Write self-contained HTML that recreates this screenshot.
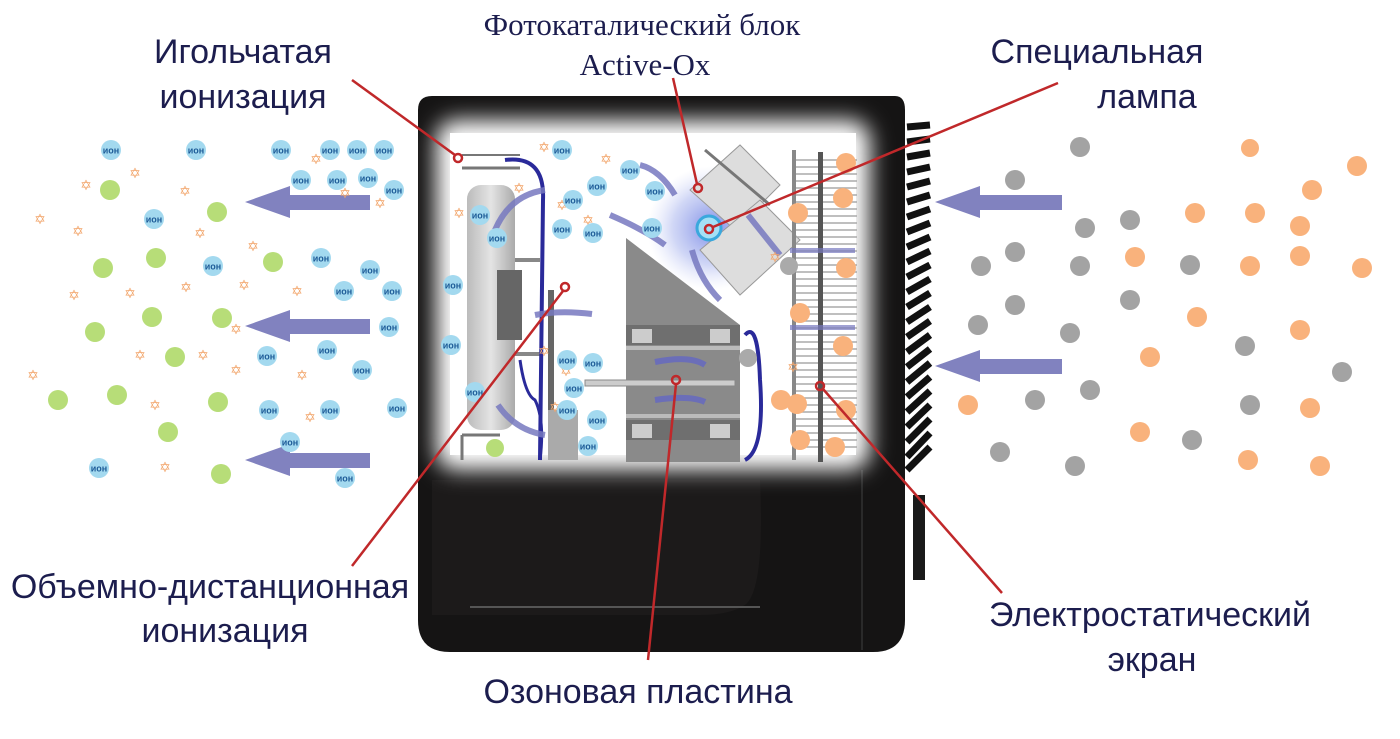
<!DOCTYPE html>
<html><head><meta charset="utf-8"><style>
html,body{margin:0;padding:0;background:#fff;}
svg{display:block}
.lbl{font-family:"Liberation Sans","DejaVu Sans",sans-serif;font-size:34px;fill:#1c1d4e}
.ser{font-family:"Liberation Serif","DejaVu Serif",serif;font-size:31px;fill:#1c1d4e}
.i{font-family:"Liberation Sans",sans-serif;font-size:9px;font-weight:bold;fill:#1e5c98;text-anchor:middle}
.st{font-family:"DejaVu Sans",sans-serif;font-size:14px;fill:#f2a66c;text-anchor:middle}
</style></head><body>
<svg width="1400" height="739" viewBox="0 0 1400 739" xmlns="http://www.w3.org/2000/svg">
<defs>
<radialGradient id="glow" cx="0.5" cy="0.5" r="0.5"><stop offset="0" stop-color="#5d6fe0" stop-opacity="0.8"/><stop offset="0.6" stop-color="#8a9ae8" stop-opacity="0.4"/><stop offset="1" stop-color="#c0c8f5" stop-opacity="0"/></radialGradient>
<filter id="blur" x="-20%" y="-20%" width="140%" height="140%"><feGaussianBlur stdDeviation="11"/></filter>
<g id="ion"><circle r="10" fill="#a3d9ef"/><text y="3.5" class="i">ион</text></g>
<linearGradient id="fan" x1="0" x2="1"><stop offset="0" stop-color="#bbb"/><stop offset="0.5" stop-color="#e4e4e4"/><stop offset="1" stop-color="#aaa"/></linearGradient>
</defs>

<!-- device body -->
<path d="M418 110 Q418 96 432 96 L895 96 Q905 96 905 110 L905 620 Q905 652 873 652 L450 652 Q418 652 418 620 Z" fill="#151414"/>
<rect x="913" y="495" width="12" height="85" fill="#1a1a1a"/>
<path d="M432 480 L760 480 Q765 590 745 605 Q730 615 700 615 L432 615 Z" fill="#1c1a1a"/>
<line x1="470" y1="607" x2="760" y2="607" stroke="#555" stroke-width="2"/>
<line x1="862" y1="470" x2="862" y2="650" stroke="#2a2a2a" stroke-width="2"/>
<!-- grill fins -->
<g stroke="#111" stroke-width="7">
<line x1="907" y1="127" x2="930" y2="125"/><line x1="907" y1="142" x2="930" y2="139"/><line x1="907" y1="157" x2="930" y2="153"/><line x1="907" y1="172" x2="930" y2="167"/><line x1="907" y1="187" x2="930" y2="181"/><line x1="907" y1="202" x2="930" y2="195"/><line x1="907" y1="217" x2="930" y2="209"/><line x1="907" y1="232" x2="930" y2="223"/><line x1="907" y1="247" x2="930" y2="237"/><line x1="907" y1="262" x2="930" y2="251"/><line x1="907" y1="277" x2="930" y2="265"/><line x1="907" y1="292" x2="930" y2="279"/><line x1="907" y1="307" x2="930" y2="293"/><line x1="907" y1="322" x2="930" y2="307"/><line x1="907" y1="337" x2="930" y2="321"/><line x1="907" y1="352" x2="930" y2="335"/><line x1="907" y1="367" x2="930" y2="349"/><line x1="907" y1="382" x2="930" y2="363"/><line x1="907" y1="397" x2="930" y2="377"/><line x1="907" y1="412" x2="930" y2="391"/><line x1="907" y1="427" x2="930" y2="405"/><line x1="907" y1="442" x2="930" y2="419"/><line x1="907" y1="457" x2="930" y2="433"/><line x1="907" y1="470" x2="930" y2="447"/>
</g>
<!-- window -->
<rect x="436" y="120" width="434" height="350" rx="20" fill="#fff" filter="url(#blur)"/>
<rect x="450" y="133" width="406" height="322" fill="#fff"/>

<!-- interior -->
<ellipse cx="712" cy="228" rx="65" ry="62" fill="url(#glow)"/>
<g stroke="#999" stroke-width="1">
<path d="M690 190 L740 145 L780 185 L735 230 Z" fill="#ddd"/>
<path d="M700 250 L760 200 L800 240 L740 295 Z" fill="#ddd"/>
</g>
<line x1="705" y1="150" x2="770" y2="205" stroke="#777" stroke-width="3"/>
<path d="M626 238 L740 325 L740 462 L626 462 Z" fill="#8a8a8a"/>
<rect x="626" y="325" width="114" height="20" fill="#6f6f6f"/><rect x="632" y="329" width="20" height="14" fill="#ccc"/><rect x="710" y="329" width="20" height="14" fill="#ccc"/>
<rect x="626" y="346" width="114" height="4" fill="#bbb"/><rect x="626" y="414" width="114" height="4" fill="#bbb"/>
<rect x="626" y="420" width="114" height="20" fill="#6f6f6f"/><rect x="632" y="424" width="20" height="14" fill="#ccc"/><rect x="710" y="424" width="20" height="14" fill="#ccc"/>
<rect x="585" y="380" width="150" height="6" fill="#ccc" stroke="#888"/>
<path d="M655 362 Q690 355 705 365" stroke="#6b6eb8" stroke-width="6" fill="none"/>
<path d="M655 400 Q690 395 705 402" stroke="#6b6eb8" stroke-width="6" fill="none"/>
<!-- fan -->
<rect x="467" y="185" width="48" height="245" rx="14" fill="url(#fan)"/>
<rect x="497" y="270" width="25" height="70" fill="#666"/>
<rect x="515" y="258" width="25" height="4" fill="#888"/><rect x="515" y="352" width="25" height="4" fill="#888"/>
<line x1="462" y1="155" x2="520" y2="155" stroke="#777" stroke-width="2"/><line x1="462" y1="168" x2="520" y2="168" stroke="#777" stroke-width="3"/>
<path d="M462 435 L462 460 M462 435 L500 435" stroke="#777" stroke-width="3" fill="none"/>
<path d="M505 160 Q545 155 543 200 L540 460" stroke="#2a2a9a" stroke-width="4" fill="none"/>
<path d="M520 360 Q525 395 535 400 Q545 420 540 460" stroke="#2a2a9a" stroke-width="3" fill="none"/>
<rect x="548" y="290" width="6" height="130" fill="#666"/>
<rect x="548" y="410" width="30" height="50" fill="#aaa"/>
<path d="M745 460 Q765 450 760 380 Q758 320 745 335" stroke="#2a2a9a" stroke-width="4" fill="none"/>
<!-- arrows inside -->
<g stroke="#7779c0" stroke-width="6" fill="none" opacity="0.85">
<path d="M545 190 Q510 195 495 230"/><path d="M592 314 Q560 310 535 315"/><path d="M545 435 Q515 430 498 405"/>
<path d="M665 245 Q645 230 610 215"/><path d="M675 195 Q660 170 640 165"/><path d="M720 300 Q700 280 692 250"/><path d="M780 255 Q760 230 748 215"/>
</g>
<!-- electrostatic screen -->
<g stroke="#aaa" stroke-width="1.5">
<line x1="792" y1="160" x2="857" y2="160"/><line x1="792" y1="167" x2="857" y2="167"/><line x1="792" y1="174" x2="857" y2="174"/><line x1="792" y1="181" x2="857" y2="181"/><line x1="792" y1="188" x2="857" y2="188"/><line x1="792" y1="195" x2="857" y2="195"/><line x1="792" y1="202" x2="857" y2="202"/><line x1="792" y1="209" x2="857" y2="209"/><line x1="792" y1="216" x2="857" y2="216"/><line x1="792" y1="223" x2="857" y2="223"/><line x1="792" y1="230" x2="857" y2="230"/><line x1="792" y1="237" x2="857" y2="237"/><line x1="792" y1="244" x2="857" y2="244"/><line x1="792" y1="251" x2="857" y2="251"/><line x1="792" y1="258" x2="857" y2="258"/><line x1="792" y1="265" x2="857" y2="265"/><line x1="792" y1="272" x2="857" y2="272"/><line x1="792" y1="279" x2="857" y2="279"/><line x1="792" y1="286" x2="857" y2="286"/><line x1="792" y1="293" x2="857" y2="293"/><line x1="792" y1="300" x2="857" y2="300"/><line x1="792" y1="307" x2="857" y2="307"/><line x1="792" y1="314" x2="857" y2="314"/><line x1="792" y1="321" x2="857" y2="321"/><line x1="792" y1="328" x2="857" y2="328"/><line x1="792" y1="335" x2="857" y2="335"/><line x1="792" y1="342" x2="857" y2="342"/><line x1="792" y1="349" x2="857" y2="349"/><line x1="792" y1="356" x2="857" y2="356"/><line x1="792" y1="363" x2="857" y2="363"/><line x1="792" y1="370" x2="857" y2="370"/><line x1="792" y1="377" x2="857" y2="377"/><line x1="792" y1="384" x2="857" y2="384"/><line x1="792" y1="391" x2="857" y2="391"/><line x1="792" y1="398" x2="857" y2="398"/><line x1="792" y1="405" x2="857" y2="405"/><line x1="792" y1="412" x2="857" y2="412"/><line x1="792" y1="419" x2="857" y2="419"/><line x1="792" y1="426" x2="857" y2="426"/><line x1="792" y1="433" x2="857" y2="433"/><line x1="792" y1="440" x2="857" y2="440"/><line x1="792" y1="447" x2="857" y2="447"/>
</g>
<rect x="792" y="150" width="4" height="310" fill="#888"/>
<rect x="818" y="152" width="5" height="310" fill="#555"/>
<rect x="790" y="248" width="65" height="5" fill="#7779c0" opacity="0.7"/><rect x="790" y="325" width="65" height="5" fill="#7779c0" opacity="0.7"/>
<g fill="#f9b27c">
<circle cx="846" cy="163" r="10"/><circle cx="843" cy="198" r="10"/><circle cx="798" cy="213" r="10"/><circle cx="846" cy="268" r="10"/><circle cx="800" cy="313" r="10"/><circle cx="843" cy="346" r="10"/><circle cx="846" cy="410" r="10"/><circle cx="797" cy="404" r="10"/><circle cx="800" cy="440" r="10"/><circle cx="835" cy="447" r="10"/><circle cx="781" cy="400" r="10"/>
</g>
<circle cx="789" cy="266" r="9" fill="#aaa"/><circle cx="748" cy="358" r="9" fill="#aaa"/>
<circle cx="709" cy="228" r="12" fill="#a5e0f5" stroke="#3aa8dd" stroke-width="3"/>

<!-- left arrows -->
<g fill="#8182bf">
<polygon points="245,202 290,186 290,195 370,195 370,210 290,210 290,218"/>
<polygon points="245,326 290,310 290,319 370,319 370,334 290,334 290,342"/>
<polygon points="245,460 290,444 290,453 370,453 370,468 290,468 290,476"/>
<polygon points="935,202 980,186 980,195 1062,195 1062,210 980,210 980,218"/>
<polygon points="935,366 980,350 980,359 1062,359 1062,374 980,374 980,382"/>
</g>
<!-- green dots -->
<g fill="#b7dd78">
<circle cx="110" cy="190" r="10"/><circle cx="217" cy="212" r="10"/><circle cx="103" cy="268" r="10"/><circle cx="156" cy="258" r="10"/><circle cx="273" cy="262" r="10"/><circle cx="95" cy="332" r="10"/><circle cx="152" cy="317" r="10"/><circle cx="222" cy="318" r="10"/><circle cx="175" cy="357" r="10"/><circle cx="58" cy="400" r="10"/><circle cx="117" cy="395" r="10"/><circle cx="218" cy="402" r="10"/><circle cx="168" cy="432" r="10"/><circle cx="221" cy="474" r="10"/><circle cx="495" cy="448" r="9"/>
</g>
<!-- stars -->
<g class="st">
<text x="135" y="178">✡</text><text x="86" y="190">✡</text><text x="185" y="196">✡</text><text x="40" y="224">✡</text><text x="78" y="236">✡</text><text x="200" y="238">✡</text><text x="253" y="251">✡</text><text x="130" y="298">✡</text><text x="74" y="300">✡</text><text x="186" y="292">✡</text><text x="244" y="290">✡</text><text x="297" y="296">✡</text><text x="236" y="334">✡</text><text x="140" y="360">✡</text><text x="203" y="360">✡</text><text x="236" y="375">✡</text><text x="33" y="380">✡</text><text x="302" y="380">✡</text><text x="155" y="410">✡</text><text x="310" y="422">✡</text><text x="165" y="472">✡</text><text x="316" y="164">✡</text><text x="380" y="208">✡</text><text x="345" y="198">✡</text><text x="544" y="152">✡</text><text x="606" y="164">✡</text><text x="562" y="210">✡</text><text x="459" y="218">✡</text><text x="519" y="193">✡</text><text x="588" y="225">✡</text><text x="544" y="356">✡</text><text x="566" y="376">✡</text><text x="555" y="412">✡</text><text x="793" y="372">✡</text><text x="775" y="262">✡</text>
</g>
<!-- right dots -->
<g fill="#a3a3a3">
<circle cx="1080" cy="147" r="10"/><circle cx="1015" cy="180" r="10"/><circle cx="1130" cy="220" r="10"/><circle cx="1085" cy="228" r="10"/><circle cx="981" cy="266" r="10"/><circle cx="1015" cy="252" r="10"/><circle cx="1080" cy="266" r="10"/><circle cx="1190" cy="265" r="10"/><circle cx="1015" cy="305" r="10"/><circle cx="978" cy="325" r="10"/><circle cx="1070" cy="333" r="10"/><circle cx="1130" cy="300" r="10"/><circle cx="1245" cy="346" r="10"/><circle cx="1342" cy="372" r="10"/><circle cx="1035" cy="400" r="10"/><circle cx="1090" cy="390" r="10"/><circle cx="1250" cy="405" r="10"/><circle cx="1000" cy="452" r="10"/><circle cx="1075" cy="466" r="10"/><circle cx="1192" cy="440" r="10"/>
</g>
<g fill="#f9b27c">
<circle cx="1250" cy="148" r="9"/><circle cx="1357" cy="166" r="10"/><circle cx="1312" cy="190" r="10"/><circle cx="1195" cy="213" r="10"/><circle cx="1255" cy="213" r="10"/><circle cx="1300" cy="226" r="10"/><circle cx="1135" cy="257" r="10"/><circle cx="1250" cy="266" r="10"/><circle cx="1300" cy="256" r="10"/><circle cx="1362" cy="268" r="10"/><circle cx="1197" cy="317" r="10"/><circle cx="1300" cy="330" r="10"/><circle cx="1150" cy="357" r="10"/><circle cx="968" cy="405" r="10"/><circle cx="1310" cy="408" r="10"/><circle cx="1140" cy="432" r="10"/><circle cx="1248" cy="460" r="10"/><circle cx="1320" cy="466" r="10"/>
</g>
<!-- ions -->
<use href="#ion" x="111" y="150"/><use href="#ion" x="196" y="150"/><use href="#ion" x="281" y="150"/><use href="#ion" x="330" y="150"/><use href="#ion" x="357" y="150"/><use href="#ion" x="384" y="150"/><use href="#ion" x="301" y="180"/><use href="#ion" x="337" y="180"/><use href="#ion" x="368" y="178"/><use href="#ion" x="394" y="190"/><use href="#ion" x="154" y="219"/><use href="#ion" x="213" y="266"/><use href="#ion" x="321" y="258"/><use href="#ion" x="370" y="270"/><use href="#ion" x="344" y="291"/><use href="#ion" x="392" y="291"/><use href="#ion" x="389" y="327"/><use href="#ion" x="267" y="356"/><use href="#ion" x="327" y="350"/><use href="#ion" x="362" y="370"/><use href="#ion" x="269" y="410"/><use href="#ion" x="330" y="410"/><use href="#ion" x="397" y="408"/><use href="#ion" x="290" y="442"/><use href="#ion" x="345" y="478"/><use href="#ion" x="99" y="468"/>
<use href="#ion" x="562" y="150"/><use href="#ion" x="630" y="170"/><use href="#ion" x="597" y="186"/><use href="#ion" x="655" y="191"/><use href="#ion" x="573" y="200"/><use href="#ion" x="562" y="229"/><use href="#ion" x="593" y="233"/><use href="#ion" x="497" y="238"/><use href="#ion" x="652" y="228"/><use href="#ion" x="453" y="285"/><use href="#ion" x="451" y="345"/><use href="#ion" x="475" y="392"/><use href="#ion" x="567" y="360"/><use href="#ion" x="593" y="363"/><use href="#ion" x="574" y="388"/><use href="#ion" x="567" y="410"/><use href="#ion" x="597" y="420"/><use href="#ion" x="588" y="446"/><use href="#ion" x="480" y="215"/>

<!-- leader lines -->
<g stroke="#c0282a" stroke-width="2.5" fill="none">
<line x1="352" y1="80" x2="455" y2="155"/><circle cx="458" cy="158" r="4"/>
<line x1="673" y1="78" x2="697" y2="184"/><circle cx="698" cy="188" r="4"/>
<line x1="1058" y1="83" x2="713" y2="227"/><circle cx="709" cy="229" r="4"/>
<line x1="352" y1="566" x2="563" y2="291"/><circle cx="565" cy="287" r="4"/>
<line x1="648" y1="660" x2="676" y2="384"/><circle cx="676" cy="380" r="4"/>
<line x1="1002" y1="593" x2="823" y2="389"/><circle cx="820" cy="386" r="4"/>
</g>
<!-- labels -->
<text class="ser" x="642" y="35" text-anchor="middle">Фотокаталический блок</text>
<text class="ser" x="645" y="75" text-anchor="middle">Active-Ox</text>
<text class="lbl" x="243" y="63" text-anchor="middle">Игольчатая</text>
<text class="lbl" x="243" y="108" text-anchor="middle">ионизация</text>
<text class="lbl" x="1097" y="63" text-anchor="middle">Специальная</text>
<text class="lbl" x="1147" y="108" text-anchor="middle">лампа</text>
<text class="lbl" x="210" y="598" text-anchor="middle">Объемно-дистанционная</text>
<text class="lbl" x="225" y="642" text-anchor="middle">ионизация</text>
<text class="lbl" x="638" y="703" text-anchor="middle">Озоновая пластина</text>
<text class="lbl" x="1150" y="626" text-anchor="middle">Электростатический</text>
<text class="lbl" x="1152" y="671" text-anchor="middle">экран</text>
</svg>
</body></html>
